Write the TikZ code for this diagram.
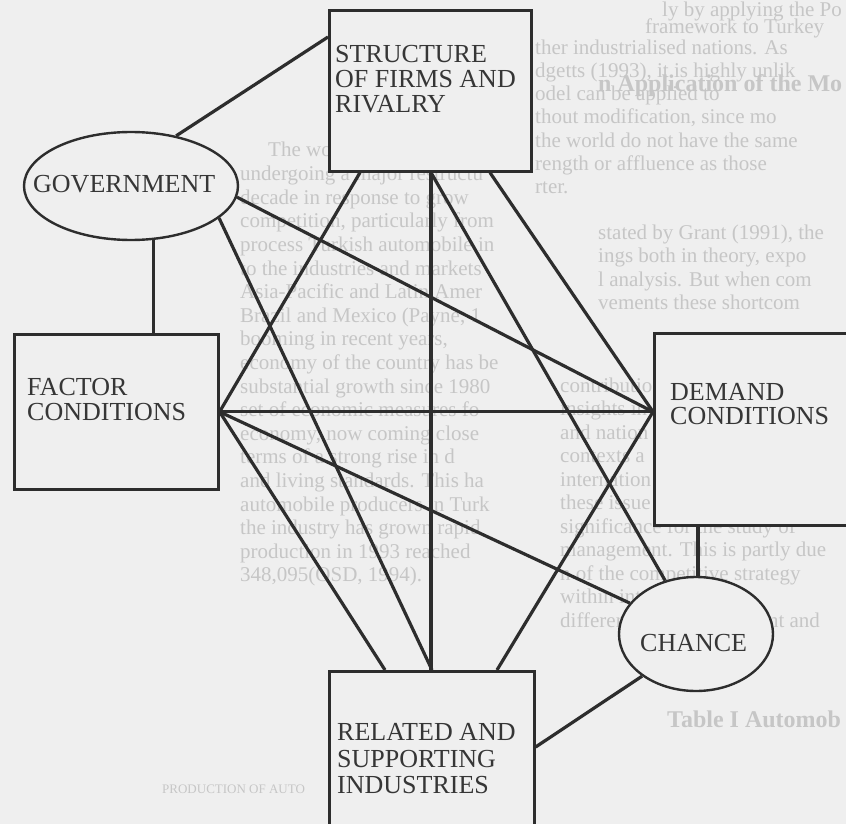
\documentclass[tikz,border=0pt]{standalone}
\usepackage{fontspec}
\setmainfont{Liberation Serif}
\usetikzlibrary{shapes.geometric,calc}
\definecolor{paper}{HTML}{EFEFEF}
\definecolor{ink}{HTML}{2D2D2D}
\definecolor{txt}{HTML}{363636}
\definecolor{ghost}{HTML}{C6C6C6}
\begin{document}
\begin{tikzpicture}[x=1pt,y=-1pt,
  box/.style={draw=ink, fill=paper, line width=2.6pt, inner sep=0pt, anchor=north west},
  oval/.style={draw=ink, fill=paper, ellipse, line width=2.4pt, inner sep=0pt},
  conn/.style={draw=ink, line width=3.2pt},
  lbl/.style={anchor=base west, inner sep=0pt, text=txt, font=\fontsize{26}{26}\selectfont},
  bg/.style={anchor=base west, inner sep=0pt, text=ghost, font=\fontsize{21}{23}\selectfont},
  bghead/.style={anchor=base west, inner sep=0pt, text=ghost, font=\bfseries\fontsize{24}{26}\selectfont}]
\fill[paper] (0,0) rectangle (846,824);
\useasboundingbox (0,0) rectangle (846,824);
\begin{scope}
\clip (0,0) rectangle (846,824);
% faint show-through text of the scanned page
\node[bg] (gt1) at (662,17) {ly by applying the Po};
\node[bg] (gt2) at (645,34) {framework to Turkey};
\node[bghead] (gt3) at (598,92) {n Application of the Mo};
\node[bg] (ga0) at (268,157) {The world automobile indu};
\foreach \t [count=\i] in {{undergoing a major restructu},{decade in response to grow},
  {competition, particularly from},{process Turkish automobile in},{to the industries and markets},
  {Asia-Pacific and Latin Amer},{Brazil and Mexico (Payne, 1},{booming in recent years,},
  {economy of the country has be},{substantial growth since 1980},{set of economic measures fo},
  {economy, now coming close},{terms of a strong rise in d},{and living standards. This ha},
  {automobile producers in Turk},{the industry has grown rapid},{production in 1993 reached},
  {348,095(OSD, 1994).}}
  \node[bg] (ga\i) at (240,{157+23.6*\i}) {\t};
\foreach \t [count=\i] in {{ther industrialised nations. As},{dgetts (1993), it is highly unlik},
  {odel can be applied to},{thout modification, since mo},{the world do not have the same},
  {rength or affluence as those},{rter.}}
  \node[bg] (gb\i) at (535,{31+23.2*\i}) {\t};
\foreach \t [count=\i] in {{stated by Grant (1991), the},{ings both in theory, expo},
  {l analysis. But when com},{vements these shortcom}}
  \node[bg] (gc\i) at (598,{215.5+23.5*\i}) {\t};
\foreach \t [count=\i] in {{contributio},{insights in},{and nation},{contexts a},{internation},
  {these issue},{significance for the study of},{management. This is partly due},
  {n of the competitive strategy},{within international},{differentiated environment and}}
  \node[bg] (gd\i) at (560,{368.5+23.5*\i}) {\t};
\node[bghead] (gtab) at (667,727) {Table I Automob};
\node[bg, font=\fontsize{13}{15}\selectfont] (gtab2) at (162,793) {PRODUCTION OF AUTO};
% boxes and ovals
\node[box, minimum width=202pt, minimum height=161pt] (struct) at (328,9) {};
\node[box, minimum width=204pt, minimum height=155pt] (factor) at (13,333) {};
\node[box, minimum width=260pt, minimum height=192pt] (demand) at (653,332) {};
\node[box, minimum width=205pt, minimum height=200pt] (related) at (328,670) {};
\node[oval, minimum width=214pt, minimum height=108pt] (gov) at (131,186) {};
\node[oval, minimum width=154pt, minimum height=114pt] (chance) at (696,634) {};
% connectors
\draw[conn] (gov.48) -- ($(struct.north west)+(0,28)$);
\draw[conn] (gov.-67.5) -- (gov.-67.5 |- factor.north);
\draw[conn] (gov.-6.5) -- (factor.east -| demand.west);
\draw[conn] (gov.-20.5) -- ($(related.north west)+(104,0)$);
\draw[conn] ($(struct.south west)+(103,0)$) -- (chance.120);
\draw[conn] (factor.east) -- (chance.155);
\draw[conn] (chance.88) -- (chance.88 |- demand.south);
\draw[conn] (chance.218) -- ($(related.north east)+(0,77)$);
\draw[conn] ($(struct.south west)+(32,0)$) -- (factor.east);
\draw[conn] ($(struct.south west)+(103,0)$) -- ($(related.north west)+(103,0)$);
\draw[conn] ($(struct.south west)+(162,0)$) -- (factor.east -| demand.west);
\draw[conn] (factor.east) -- (factor.east -| demand.west);
\draw[conn] (factor.east) -- ($(related.north west)+(57,0)$);
\draw[conn] (factor.east -| demand.west) -- ($(related.north west)+(169,0)$);
% labels
\node[lbl] (st1) at (335,63) {STRUCTURE};
\node[lbl] (st2) at (335,88) {OF FIRMS AND};
\node[lbl] (st3) at (335,113) {RIVALRY};
\node[lbl] (gv1) at (33,193) {GOVERNMENT};
\node[lbl] (fc1) at (27,395) {FACTOR};
\node[lbl] (fc2) at (27,420) {CONDITIONS};
\node[lbl] (dm1) at (670,400) {DEMAND};
\node[lbl] (dm2) at (670,424) {CONDITIONS};
\node[lbl] (ch1) at (640,651) {CHANCE};
\node[lbl] (rl1) at (337,740) {RELATED AND};
\node[lbl] (rl2) at (337,767) {SUPPORTING};
\node[lbl] (rl3) at (337,793) {INDUSTRIES};
\end{scope}
\end{tikzpicture}
\end{document}
